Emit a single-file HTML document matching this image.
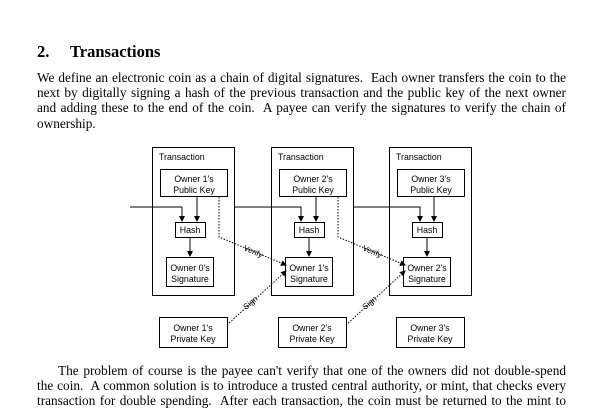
<!DOCTYPE html><html><head><style>
body{margin:0;width:606px;height:405px;overflow:hidden;background:#fff;font-family:"Liberation Serif",serif;color:#000}
.l{position:absolute;left:37px;width:529px;font-size:13.3px;white-space:nowrap;text-align:justify;text-align-last:justify;line-height:15px}
.h{position:absolute;left:37px;top:42px;font-size:16.5px;font-weight:bold}
svg text{font-family:"Liberation Sans",sans-serif;font-size:8.8px}
</style></head><body>
<div class="h">2.&nbsp;&nbsp;&nbsp;&nbsp;&nbsp;Transactions</div>
<div class="l" style="top:70px">We define an electronic coin as a chain of digital signatures.&nbsp; Each owner transfers the coin to the</div>
<div class="l" style="top:85px">next by digitally signing a hash of the previous transaction and the public key of the next owner</div>
<div class="l" style="top:100px">and adding these to the end of the coin.&nbsp; A payee can verify the signatures to verify the chain of</div>
<div class="l" style="top:116px;text-align-last:left">ownership.</div>
<div class="l" style="top:363px;left:58px;width:508px">The problem of course is the payee can't verify that one of the owners did not double-spend</div>
<div class="l" style="top:378px">the coin.&nbsp; A common solution is to introduce a trusted central authority, or mint, that checks every</div>
<div class="l" style="top:393px">transaction for double spending.&nbsp; After each transaction, the coin must be returned to the mint to</div>
<svg width="606" height="405" style="position:absolute;left:0;top:0">
<defs><marker id="a" markerWidth="6" markerHeight="6" refX="5" refY="3" orient="auto" markerUnits="userSpaceOnUse"><path d="M0,0L6,3L0,6z"/></marker></defs>
<g fill="none" stroke="#000" stroke-width="1">
<line x1="130" y1="207" x2="182" y2="207"/>
<polyline points="234,207 301,207 301,221" marker-end="url(#a)"/>
<polyline points="353,207 420,207 420,221" marker-end="url(#a)"/>
</g>
<g>
<g fill="none" stroke="#000">
<rect x="152.5" y="147.5" width="82" height="148"/>
<rect x="160.5" y="169.5" width="67" height="27"/>
<rect x="175.5" y="222.5" width="30" height="15"/>
<rect x="166.5" y="257.5" width="47" height="29"/>
<rect x="159.5" y="317.5" width="68" height="30"/>
<polyline points="182,207 182,221" marker-end="url(#a)"/>
<line x1="197" y1="197" x2="197" y2="221" marker-end="url(#a)"/>
<line x1="190" y1="238" x2="190" y2="256" marker-end="url(#a)"/>
</g>
<text x="159" y="160">Transaction</text>
<text x="194" y="182" text-anchor="middle">Owner 1's</text>
<text x="194" y="193" text-anchor="middle">Public Key</text>
<text x="190" y="233" text-anchor="middle">Hash</text>
<text x="190" y="271" text-anchor="middle">Owner 0's</text>
<text x="190" y="282" text-anchor="middle">Signature</text>
<text x="193" y="331" text-anchor="middle">Owner 1's</text>
<text x="193" y="342" text-anchor="middle">Private Key</text>
</g>
<g transform="translate(119,0)">
<g fill="none" stroke="#000">
<rect x="152.5" y="147.5" width="82" height="148"/>
<rect x="160.5" y="169.5" width="67" height="27"/>
<rect x="175.5" y="222.5" width="30" height="15"/>
<rect x="166.5" y="257.5" width="47" height="29"/>
<rect x="159.5" y="317.5" width="68" height="30"/>
<line x1="197" y1="197" x2="197" y2="221" marker-end="url(#a)"/>
<line x1="190" y1="238" x2="190" y2="256" marker-end="url(#a)"/>
</g>
<text x="159" y="160">Transaction</text>
<text x="194" y="182" text-anchor="middle">Owner 2's</text>
<text x="194" y="193" text-anchor="middle">Public Key</text>
<text x="190" y="233" text-anchor="middle">Hash</text>
<text x="190" y="271" text-anchor="middle">Owner 1's</text>
<text x="190" y="282" text-anchor="middle">Signature</text>
<text x="193" y="331" text-anchor="middle">Owner 2's</text>
<text x="193" y="342" text-anchor="middle">Private Key</text>
</g>
<g transform="translate(237,0)">
<g fill="none" stroke="#000">
<rect x="152.5" y="147.5" width="82" height="148"/>
<rect x="160.5" y="169.5" width="67" height="27"/>
<rect x="175.5" y="222.5" width="30" height="15"/>
<rect x="166.5" y="257.5" width="47" height="29"/>
<rect x="159.5" y="317.5" width="68" height="30"/>
<line x1="197" y1="197" x2="197" y2="221" marker-end="url(#a)"/>
<line x1="190" y1="238" x2="190" y2="256" marker-end="url(#a)"/>
</g>
<text x="159" y="160">Transaction</text>
<text x="194" y="182" text-anchor="middle">Owner 3's</text>
<text x="194" y="193" text-anchor="middle">Public Key</text>
<text x="190" y="233" text-anchor="middle">Hash</text>
<text x="190" y="271" text-anchor="middle">Owner 2's</text>
<text x="190" y="282" text-anchor="middle">Signature</text>
<text x="193" y="331" text-anchor="middle">Owner 3's</text>
<text x="193" y="342" text-anchor="middle">Private Key</text>
</g>
<g fill="none" stroke="#000" stroke-dasharray="1.5,1.5">
<polyline points="219,197 219,237 286,265" marker-end="url(#a)"/>
<polyline points="338,197 338,237 405,265" marker-end="url(#a)"/>
<polyline points="227,325 286,271" marker-end="url(#a)"/>
<polyline points="346,325 405,271" marker-end="url(#a)"/>
</g>
<g fill="#000">
<text transform="translate(243,250) rotate(23)" style="font-size:8px">Verify</text>
<text transform="translate(362,250) rotate(23)" style="font-size:8px">Verify</text>
<text transform="translate(246,310) rotate(-40)" style="font-size:8px">Sign</text>
<text transform="translate(365,310) rotate(-40)" style="font-size:8px">Sign</text>
</g>
</svg>
</body></html>
